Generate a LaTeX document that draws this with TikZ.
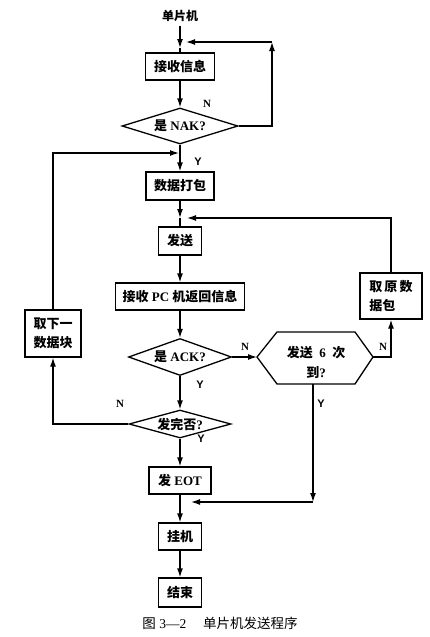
\documentclass[tikz,border=0pt]{standalone}
\usepackage{fontspec}
\setmainfont{Liberation Serif}
\newfontfamily\lsans{Liberation Sans}
\newfontfamily\cjk{Noto Sans CJK SC}
\usetikzlibrary{shapes.geometric,arrows.meta}
\newcommand\zh[1]{{\cjk #1}}
\begin{document}
\begin{tikzpicture}[x=1pt,y=-1pt,line width=1.3pt,
  arr/.style={-{Latex[length=9pt,width=6pt]}},
  box/.style={draw,inner sep=0pt,align=center,font=\fontsize{13}{19}\selectfont\bfseries},
  dia/.style={draw,diamond,aspect=3.6,inner sep=0pt,font=\fontsize{13}{14}\selectfont\bfseries},
  lab/.style={font=\fontsize{11}{12}\selectfont\bfseries},
  ylab/.style={font=\fontsize{11}{12}\selectfont\bfseries\lsans}]
\fill[white] (0,0) rectangle (430,637);
\useasboundingbox (0,0) rectangle (430,637);

\node[font=\fontsize{12}{13}\selectfont\bfseries] (start) at (180,16) {\zh{单片机}};
\node[box,minimum width=69,minimum height=27] (recv) at (180,66.5) {\zh{接收信息}};
\node[dia,minimum width=116,minimum height=36] (nak) at (180,126) {\zh{是} NAK?};
\node[box,minimum width=68,minimum height=28] (pack) at (180,186) {\zh{数据打包}};
\node[box,minimum width=43,minimum height=28] (send) at (180,241) {\zh{发送}};
\node[box,minimum width=129,minimum height=27] (pc) at (180,296.5) {\zh{接收} PC \zh{机返回信息}};
\node[dia,minimum width=103,minimum height=37] (ack) at (180,357) {\zh{是} ACK?};
\node[dia,minimum width=102,minimum height=28] (fin) at (180,424) {\zh{发完否}?};
\node[box,minimum width=62,minimum height=27] (eot) at (180,480.5) {\zh{发} EOT};
\node[box,minimum width=43,minimum height=27] (hang) at (180,536.5) {\zh{挂机}};
\node[box,minimum width=43,minimum height=29] (end) at (180,592.5) {\zh{结束}};
\node[box,minimum width=62,minimum height=46,align=left] (orig) at (391,296) {\zh{取\,原\,数}\\\zh{据包}};
\node[box,minimum width=56,minimum height=47,align=left] (next) at (53,333.5) {\zh{取下一}\\\zh{数据块}};

% hexagon
\coordinate (hexL) at (257,357);
\coordinate (hexR) at (373,357);
\coordinate (hexB) at (313,384);
\draw (hexL) -- (277,332) -- (355,332) -- (hexR) -- (355,384) -- (277,384) -- cycle;
\node[align=center,font=\fontsize{13}{20}\selectfont\bfseries] (hex) at (316,362) {\zh{发送}\ \ 6\ \ \zh{次}\\\zh{到}?};

\node[font=\fontsize{13.5}{15}\selectfont] (cap) at (220,623) {\zh{图} 3—2\quad\ \zh{单片机发送程序}};

% connectors
\coordinate (m1tip) at (180,48);
\draw[arr] (start) -- (m1tip);
\draw (m1tip) -- (recv);
\draw[arr] (recv) -- (nak);
\coordinate (c1) at (272,42);
\coordinate (m1) at (186,42);
\draw[arr] (nak.east) -| (c1);
\draw[arr] (c1) -- (m1);
\node[lab] (n1) at (207,104) {N};

\draw[arr] (nak) -- (pack);
\node[ylab] (y1) at (198,162) {Y};

\coordinate (c2) at (53,153);
\coordinate (m2) at (179,153);
\draw[arr] (next) -- (c2) -- (m2);
\draw[arr] (fin.west) -| (next);
\node[lab] (n4) at (120,404) {N};

\coordinate (m3tip) at (180,218);
\draw[arr] (pack) -- (m3tip);
\draw (m3tip) -- (send);
\draw[arr] (send) -- (pc);
\draw[arr] (pc) -- (ack);

\draw[arr] (ack) -- (hexL);
\node[lab] (n2) at (245,347) {N};
\draw[arr] (hexR) -| (orig);
\node[lab] (n3) at (383,347) {N};
\coordinate (c3) at (391,218);
\coordinate (m3) at (187,218);
\draw[arr] (orig) -- (c3) -- (m3);

\draw[arr] (ack) -- (fin);
\node[ylab] (y2) at (200,385) {Y};
\draw[arr] (fin) -- (eot);
\node[ylab] (y3) at (201,439) {Y};

\coordinate (c4) at (313,502);
\coordinate (m4) at (191,502);
\draw[arr] (hexB) -- (c4);
\draw[arr] (c4) -- (m4);
\node[ylab] (y4) at (321,404) {Y};

\draw[arr] (eot) -- (hang);
\draw[arr] (hang) -- (end);
\end{tikzpicture}
\end{document}
